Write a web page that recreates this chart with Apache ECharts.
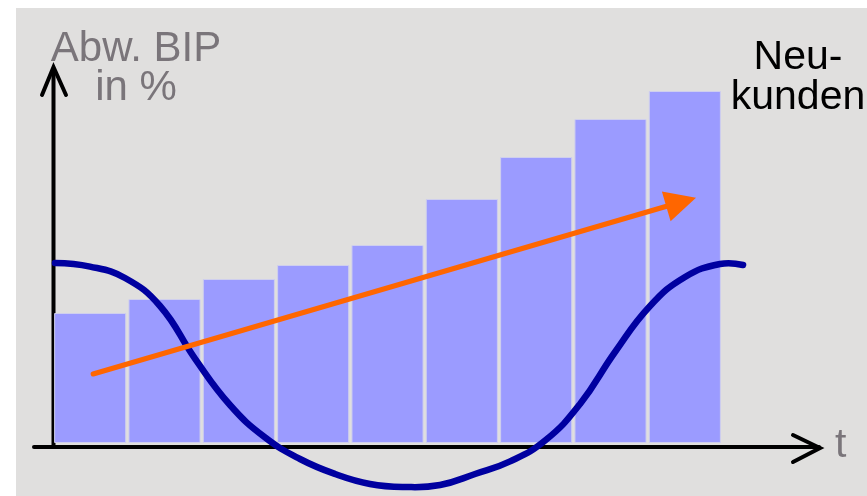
<!DOCTYPE html>
<html>
<head>
<meta charset="utf-8">
<script src="https://cdn.jsdelivr.net/npm/echarts@6/dist/echarts.min.js"></script>
<style>
  html, body { margin: 0; padding: 0; background: #ffffff; }
  #chart { position: absolute; left: 16px; top: 8px; width: 851px; height: 488px; }
</style>
</head>
<body>
<div id="chart"></div>
<script>
// Periods on the time axis (unlabelled)
const periods = ['1', '2', '3', '4', '5', '6', '7', '8', '9'];
// New customers per period (bars)
const newCustomers = [32.5, 36, 41, 44.5, 49.5, 61, 71.5, 81, 88];
// GDP deviation over time: [period position, deviation]
const gdpDeviation = [
  [0.027, 45], [0.498, 44.1], [0.969, 41.25], [1.44, 34.25], [1.91, 21.1],
  [2.381, 9.5], [2.852, 1.4], [3.323, -4], [3.794, -7.75], [4.265, -10.25],
  [4.736, -11], [5.207, -10.5], [5.678, -7.75], [6.149, -4.6], [6.62, 0.6],
  [7.09, 9.75], [7.561, 22.75], [8.032, 34.25], [8.503, 41.5], [8.973, 44.75],
  [9.283, 44.5]
];
// Growth trend of new customers: start and end of the arrow
const trendStart = [0.54, 17.25];
const trendEnd = [8.45, 60.25];

const chart = echarts.init(document.getElementById('chart'));
const grey = '#7a757a';
const font = 'Liberation Sans, Arial, sans-serif';
const unitPx = (851 - 37 - 145) / 9;

// Draws the whole GDP curve as one smooth stroke through the axis-mapped points
function renderCurve(params, api) {
  if (params.dataIndex !== 0) return null;
  const points = gdpDeviation.map(function (p) { return api.coord(p); });
  return {
    type: 'polyline',
    shape: { points: points, smooth: 0.45 },
    style: { stroke: '#0000a0', lineWidth: 6.5, fill: null, lineCap: 'round', lineJoin: 'round' }
  };
}

chart.setOption({
  backgroundColor: '#e0dfde',
  animation: false,
  grid: [
    { left: 37, right: 145, top: 35, bottom: 3 },
    // same scale as the bar grid, a little wider so the curve can run past the last bar
    { left: 37, right: 145 - 0.3 * unitPx, top: 35, bottom: 3 }
  ],
  xAxis: [
    { type: 'category', gridIndex: 0, data: periods, show: false },
    { type: 'value', gridIndex: 1, min: 0, max: 9.3, show: false }
  ],
  yAxis: [
    { type: 'value', gridIndex: 0, min: -12.5, max: 100, show: false },
    { type: 'value', gridIndex: 1, min: -12.5, max: 100, show: false }
  ],
  graphic: [
    // time axis with open arrow head
    { type: 'polyline', z: 0, shape: { points: [[18, 439], [803, 439]] },
      style: { stroke: '#000', lineWidth: 4, lineCap: 'round', fill: null } },
    { type: 'polyline', z: 0, shape: { points: [[777, 427], [804, 440], [777, 454]] },
      style: { stroke: '#000', lineWidth: 4, lineCap: 'round', lineJoin: 'miter', fill: null } },
    // value axis with open arrow head
    { type: 'polyline', z: 0, shape: { points: [[37.5, 439], [37.5, 61]] },
      style: { stroke: '#000', lineWidth: 4, lineCap: 'round', fill: null } },
    { type: 'polyline', z: 0, shape: { points: [[26, 87], [37.5, 59], [50, 87]] },
      style: { stroke: '#000', lineWidth: 4, lineCap: 'round', lineJoin: 'miter', fill: null } },
    // axis titles
    { type: 'text', z: 10, x: 120, y: 41,
      style: { text: 'Abw. BIP', fill: grey, font: '42px ' + font, align: 'center', verticalAlign: 'middle' } },
    { type: 'text', z: 10, x: 120, y: 80,
      style: { text: 'in %', fill: grey, font: '42px ' + font, align: 'center', verticalAlign: 'middle' } },
    { type: 'text', z: 10, x: 782, y: 50,
      style: { text: 'Neu-', fill: '#000', font: '41px ' + font, align: 'center', verticalAlign: 'middle' } },
    { type: 'text', z: 10, x: 782, y: 90,
      style: { text: 'kunden', fill: '#000', font: '41px ' + font, align: 'center', verticalAlign: 'middle' } },
    { type: 'text', z: 10, x: 819, y: 438,
      style: { text: 't', fill: grey, font: '41px ' + font, align: 'left', verticalAlign: 'middle' } }
  ],
  series: [
    {
      type: 'bar',
      xAxisIndex: 0,
      yAxisIndex: 0,
      data: newCustomers,
      barCategoryGap: '3%',
      itemStyle: { color: '#9b9bff', borderColor: '#cfcfee', borderWidth: 1 },
      z: 2
    },
    {
      type: 'custom',
      xAxisIndex: 1,
      yAxisIndex: 1,
      data: gdpDeviation,
      clip: false,
      silent: true,
      renderItem: renderCurve,
      z: 3
    },
    {
      type: 'line',
      xAxisIndex: 1,
      yAxisIndex: 1,
      data: [],
      z: 4,
      markLine: {
        silent: true,
        animation: false,
        symbol: ['none', 'triangle'],
        symbolSize: [31, 31],
        label: { show: false },
        lineStyle: { color: '#ff6600', width: 5, type: 'solid', cap: 'round' },
        itemStyle: { color: '#ff6600' },
        data: [[{ coord: trendStart }, { coord: trendEnd }]]
      }
    }
  ]
});
</script>
</body>
</html>
